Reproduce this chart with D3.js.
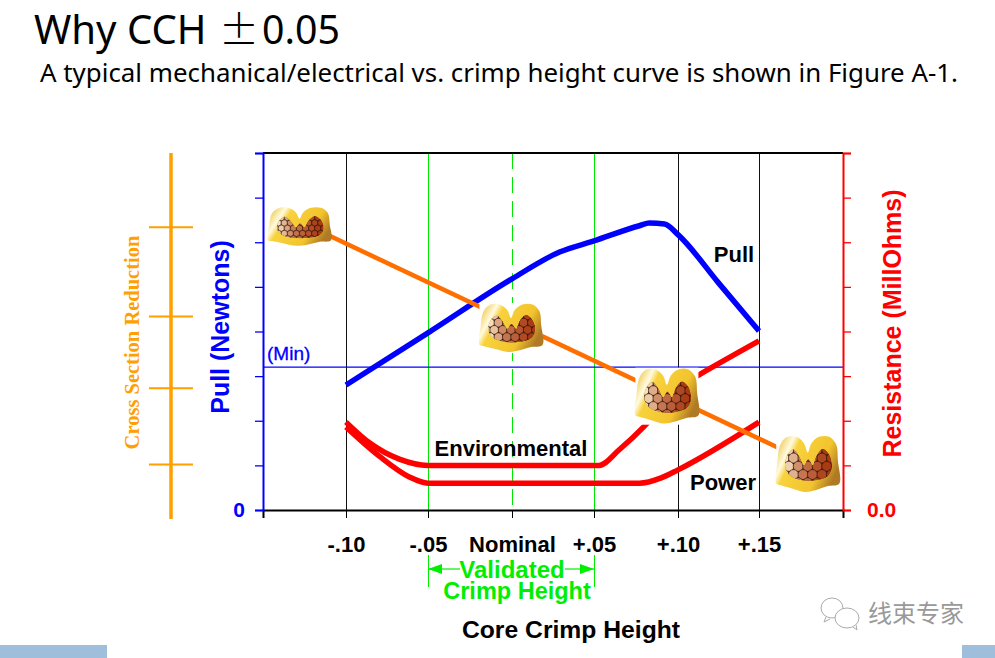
<!DOCTYPE html>
<html lang="en">
<head>
    <meta charset="UTF-8">
    <title>Why CCH</title>
    <style>
        html, body { margin: 0; padding: 0; background: #fff; }
        svg { display: block; }
        text { font-family: "Liberation Sans", Arial, sans-serif; font-weight: bold; }
        .slide-text { font-family: "Noto Sans", sans-serif; font-weight: normal; fill: #000; }
    </style>
</head>
<body>
    <div id="chart"></div>
    <script src="https://cdn.jsdelivr.net/npm/d3@7"></script>
    <script>

        // x is offset from nominal crimp height, y is in axis divisions
        var crimpTicks = [-0.15, -0.10, -0.05, 0, 0.05, 0.10, 0.15, 0.20];
        var crimpLabels = ["", "-.10", "-.05", "Nominal", "+.05", "+.10", "+.15", ""];
        var yTicks = [0, 1, 2, 3, 4, 5, 6, 7, 8];

        var pullX = [-0.10, -0.05, 0, 0.029, 0.05, 0.077, 0.083, 0.092, 0.10, 0.125, 0.15];
        var pullY = [2.80, 3.97, 5.18, 5.78, 6.03, 6.37, 6.43, 6.41, 6.17, 5.09, 4.01];

        var envX = [-0.10, -0.0855, -0.0675, -0.05, 0.053, 0.065, 0.08, 0.10, 0.113, 0.15];
        var envY = [1.97, 1.50, 1.14, 1.00, 1.00, 1.35, 1.88, 2.75, 3.03, 3.79];

        var powerX = [-0.10, -0.0795, -0.0614, -0.05, 0.077, 0.09, 0.10, 0.15];
        var powerY = [1.86, 1.20, 0.74, 0.60, 0.60, 0.72, 0.90, 1.97];

        var crossX = [-0.129, 0.178];
        var crossY = [6.48, 1.10];
        var crossTicks = [6.35, 4.35, 2.74, 1.03];

        var sampleX = [-0.128, -0.0006, 0.0934, 0.179];
        var sampleY = [6.35, 4.08, 2.55, 1.03];
        var minPull = 3.2;

        var width = 995,
            height = 658;

        // the drawn gridlines are not quite evenly spaced
        var x = d3.scaleLinear().domain(crimpTicks).range([263, 346, 428, 512, 594, 678, 759, 843]);
        var y = d3.scaleLinear().domain([0, 8]).range([510, 153]);

        var svg = d3.select("#chart").append("svg")
            .attr("width", width)
            .attr("height", height);

        var defs = svg.append("defs");
        var gold = defs.append("linearGradient").attr("id", "gold")
            .attr("x1", 0).attr("y1", 0.1).attr("x2", 1).attr("y2", 0.5);
        gold.append("stop").attr("offset", 0).attr("stop-color", "#ecbc2c");
        gold.append("stop").attr("offset", 0.22).attr("stop-color", "#fffbe0");
        gold.append("stop").attr("offset", 0.32).attr("stop-color", "#f8d23c");
        gold.append("stop").attr("offset", 0.75).attr("stop-color", "#f2c42e");
        gold.append("stop").attr("offset", 1).attr("stop-color", "#b07a24");

        // slide furniture
        svg.append("rect").attr("x", 0).attr("y", 645).attr("width", 107).attr("height", 13).attr("fill", "#9fbedb");
        svg.append("rect").attr("x", 962).attr("y", 645).attr("width", 33).attr("height", 13).attr("fill", "#9fbedb");

        var title = svg.append("text").attr("class", "slide-text")
            .attr("y", 44)
            .style("font-size", "40px");
        title.append("tspan").attr("x", 34).attr("textLength", 183).attr("lengthAdjust", "spacingAndGlyphs").text("Why CCH ");
        title.append("tspan").attr("x", 219)
            .style("font-family", '"Noto Sans CJK SC"')
            .style("font-weight", "200")
            .text("±");
        title.append("tspan").attr("x", 262).attr("textLength", 78).attr("lengthAdjust", "spacingAndGlyphs").text("0.05");

        svg.append("text").attr("class", "slide-text")
            .attr("x", 40).attr("y", 82)
            .style("font-size", "25px")
            .attr("textLength", 918)
            .attr("lengthAdjust", "spacingAndGlyphs")
            .text("A typical mechanical/electrical vs. crimp height curve is shown in Figure A-1.");

        // watermark
        var mark = svg.append("g").attr("fill", "#fff").attr("stroke", "#aaa").attr("stroke-width", 1);
        mark.append("ellipse").attr("cx", 832).attr("cy", 608).attr("rx", 11).attr("ry", 10);
        mark.append("path").attr("d", "M826 617l-2 5 6-3");
        mark.append("ellipse").attr("cx", 847).attr("cy", 618).attr("rx", 12).attr("ry", 10);
        mark.append("path").attr("d", "M853 627l4 3-1-5");
        svg.append("text")
            .attr("x", 868).attr("y", 622)
            .style("font-family", '"Noto Sans CJK SC"')
            .style("font-weight", "normal")
            .style("font-size", "24px")
            .attr("fill", "#999")
            .text("线束专家");

        // grid verticals
        var grid = svg.append("g").attr("shape-rendering", "crispEdges");
        var blackLines = [-0.10, 0.10, 0.15];
        var greenLines = [-0.05, 0.05];
        grid.selectAll(".black").data(blackLines).enter().append("line")
            .attr("class", "black")
            .attr("x1", d => x(d)).attr("x2", d => x(d))
            .attr("y1", y(8)).attr("y2", y(0))
            .attr("stroke", "#111").attr("stroke-width", 1);
        grid.selectAll(".green").data(greenLines).enter().append("line")
            .attr("class", "green")
            .attr("x1", d => x(d)).attr("x2", d => x(d))
            .attr("y1", y(8)).attr("y2", y(0))
            .attr("stroke", "#00e800").attr("stroke-width", 1);
        grid.append("line")
            .attr("x1", x(0)).attr("x2", x(0))
            .attr("y1", y(8)).attr("y2", y(0))
            .attr("stroke", "#00e800").attr("stroke-width", 1)
            .attr("stroke-dasharray", "16 8");

        // min pull line
        svg.append("line")
            .attr("x1", x(-0.15)).attr("x2", x(0.20))
            .attr("y1", y(minPull)).attr("y2", y(minPull))
            .attr("stroke", "#0000ff").attr("stroke-width", 1.3);
        svg.append("text")
            .attr("x", 267).attr("y", 360)
            .attr("fill", "#0000ff")
            .style("font-weight", "normal")
            .style("font-size", "19px")
            .attr("stroke", "#0000ff")
            .attr("stroke-width", 0.3)
            .text("(Min)");

        // top edge
        svg.append("line")
            .attr("x1", x(-0.15)).attr("x2", x(0.20))
            .attr("y1", y(8)).attr("y2", y(8))
            .attr("stroke", "#000").attr("stroke-width", 2);

        // axes
        var bottomAxis = d3.axisBottom(x)
            .tickValues(crimpTicks)
            .tickSize(8)
            .tickPadding(18)
            .tickFormat(function(d, i) { return crimpLabels[i]; });
        var gBottom = svg.append("g").attr("transform", "translate(0," + y(0) + ")").call(bottomAxis);
        gBottom.select(".domain").attr("stroke", "#000").attr("stroke-width", 2);
        gBottom.selectAll("line").attr("stroke", "#000");
        gBottom.selectAll("text").attr("fill", "#000")
            .style("font-size", "22px")
            .style("font-weight", "bold")
            .style("font-family", '"Liberation Sans"');

        var leftAxis = d3.axisLeft(y)
            .tickValues(yTicks)
            .tickSize(8)
            .tickPadding(10)
            .tickFormat(d => d === 0 ? "0" : "");
        var gLeft = svg.append("g").attr("transform", "translate(" + x(-0.15) + ",0)").call(leftAxis);
        gLeft.selectAll(".domain, line").attr("stroke", "#0000ff").attr("stroke-width", 2);
        gLeft.selectAll("line").attr("stroke-width", 1.3);
        gLeft.selectAll("text").attr("fill", "#0000ff")
            .style("font-size", "21px")
            .style("font-weight", "bold")
            .style("font-family", '"Liberation Sans"');

        var rightAxis = d3.axisRight(y)
            .tickValues(yTicks)
            .tickSize(8)
            .tickPadding(16)
            .tickFormat(d => d === 0 ? "0.0" : "");
        var gRight = svg.append("g").attr("transform", "translate(" + x(0.20) + ",0)").call(rightAxis);
        gRight.selectAll(".domain, line").attr("stroke", "#ff0000").attr("stroke-width", 2);
        gRight.selectAll("line").attr("stroke-width", 1.3);
        gRight.selectAll("text").attr("fill", "#ff0000")
            .style("font-size", "21px")
            .style("font-weight", "bold")
            .style("font-family", '"Liberation Sans"');

        // cross section axis
        var crossAxis = d3.axisLeft(y)
            .tickValues(crossTicks)
            .tickSize(44)
            .tickFormat("");
        var gCross = svg.append("g").attr("transform", "translate(193,0)").call(crossAxis);
        gCross.select(".domain").remove();
        gCross.selectAll("line").attr("stroke", "#ff9f00").attr("stroke-width", 2);
        svg.append("line")
            .attr("x1", 171).attr("x2", 171)
            .attr("y1", y(8)).attr("y2", y(-0.2))
            .attr("stroke", "#ff9f00").attr("stroke-width", 3.5);

        // curves
        var curve = d3.line()
            .x(d => x(d[0]))
            .y(d => y(d[1]))
            .curve(d3.curveMonotoneX);

        svg.append("path").datum(d3.zip(powerX, powerY))
            .attr("d", curve).attr("fill", "none")
            .attr("stroke", "#ff0000").attr("stroke-width", 5.5);
        svg.append("path").datum(d3.zip(envX, envY))
            .attr("d", curve).attr("fill", "none")
            .attr("stroke", "#ff0000").attr("stroke-width", 5.5);
        svg.append("path").datum(d3.zip(pullX, pullY))
            .attr("d", curve).attr("fill", "none")
            .attr("stroke", "#0000ff").attr("stroke-width", 5.5);
        svg.append("path").datum(d3.zip(crossX, crossY))
            .attr("d", curve).attr("fill", "none")
            .attr("stroke", "#ff6f00").attr("stroke-width", 4.5);

        // crimp cross section pictures, they get taller along the line
        var outline = [[2, 45], [6, 18], [16, 4], [32, 3], [44, 14], [50, 30], [56, 14], [68, 3], [84, 3], [95, 16],
            [98, 45], [100, 84], [82, 88], [62, 95], [45, 98], [25, 92], [6, 86], [0, 84]];
        var bundle = [[14, 54], [18, 34], [27, 25], [36, 36], [44, 52], [51, 42], [58, 52], [64, 36], [74, 24], [84, 34],
            [88, 55], [82, 70], [62, 78], [42, 78], [22, 70]];
        var sampleW = 63;
        var sampleH = [40, 50, 57, 58];
        var cellR = [3.2, 4.4, 4.8, 5];
        var shape = d3.line().curve(d3.curveCatmullRomClosed);

        sampleX.forEach(function(v, i) {
            var h = sampleH[i],
                sx = d3.scaleLinear().domain([0, 100]).range([-sampleW / 2, sampleW / 2]),
                sy = d3.scaleLinear().domain([0, 100]).range([-h / 2, h / 2]);
            var scaled = pts => shape(pts.map(p => [sx(p[0]), sy(p[1])]));

            var g = svg.append("g")
                .attr("transform", "translate(" + x(v) + "," + y(sampleY[i]) + ")");
            g.append("rect")
                .attr("x", -sampleW / 2).attr("y", -h / 2)
                .attr("width", sampleW).attr("height", h)
                .attr("fill", "#fff");
            g.append("path").attr("d", scaled(outline)).attr("fill", "url(#gold)");

            defs.append("clipPath").attr("id", "bundle" + i)
                .append("path").attr("d", scaled(bundle));
            var cells = g.append("g").attr("clip-path", "url(#bundle" + i + ")");
            cells.append("path").attr("d", scaled(bundle)).attr("fill", "#4a1c08");

            var r = cellR[i],
                tone = d3.scaleLinear().domain([-sampleW * 0.34, -sampleW * 0.1, sampleW * 0.3]).range([0, 0.62, 1]),
                color = d3.interpolateRgb("#f8e2c0", "#a83a14");
            d3.range(-6, 7).forEach(function(row) {
                d3.range(-8, 9).forEach(function(col) {
                    var cx = (col + (row % 2 ? 0.5 : 0)) * r * 1.9,
                        cy = row * r * 1.65 + h * 0.04;
                    cells.append("circle")
                        .attr("cx", cx).attr("cy", cy).attr("r", r)
                        .attr("fill", color(Math.max(0, Math.min(1, tone(cx)))))
                        .attr("stroke", "#2a1408").attr("stroke-width", 0.6);
                });
            });
        });

        // series names
        var labels = [
            ["Pull", 734, 262],
            ["Environmental", 511, 456],
            ["Power", 723, 490]
        ];
        svg.selectAll(".series-name").data(labels).enter().append("text")
            .attr("class", "series-name")
            .attr("x", d => d[1]).attr("y", d => d[2])
            .attr("text-anchor", "middle")
            .attr("fill", "#000")
            .style("font-size", "22px")
            .text(d => d[0]);

        // axis titles
        svg.append("text")
            .attr("transform", "translate(139,342.5) rotate(-90)")
            .attr("text-anchor", "middle")
            .attr("fill", "#ff9f00")
            .style("font-family", '"Liberation Serif"')
            .style("font-size", "20.5px")
            .text("Cross Section Reduction");
        svg.append("text")
            .attr("transform", "translate(229,327) rotate(-90)")
            .attr("text-anchor", "middle")
            .attr("fill", "#0000ff")
            .style("font-size", "25px")
            .text("Pull (Newtons)");
        svg.append("text")
            .attr("transform", "translate(901,323.5) rotate(-90)")
            .attr("text-anchor", "middle")
            .attr("fill", "#ff0000")
            .style("font-size", "25px")
            .text("Resistance (MillOhms)");
        svg.append("text")
            .attr("x", 571).attr("y", 638)
            .attr("text-anchor", "middle")
            .attr("fill", "#000")
            .style("font-size", "24.7px")
            .text("Core Crimp Height");

        // validated range bracket
        var bracketGreen = "#00ee00";
        var bracket = svg.append("g");
        greenLines.forEach(function(d) {
            bracket.append("line")
                .attr("shape-rendering", "crispEdges")
                .attr("x1", x(d)).attr("x2", x(d))
                .attr("y1", 555).attr("y2", 587)
                .attr("stroke", bracketGreen).attr("stroke-width", 1);
        });
        bracket.append("line").attr("x1", x(-0.05)).attr("x2", 460).attr("y1", 569).attr("y2", 569)
            .attr("stroke", bracketGreen).attr("stroke-width", 1.2);
        bracket.append("line").attr("x1", 565).attr("x2", x(0.05)).attr("y1", 569).attr("y2", 569)
            .attr("stroke", bracketGreen).attr("stroke-width", 1.2);
        var head = d3.path();
        head.moveTo(x(-0.05), 569); head.lineTo(x(-0.05) + 14, 564); head.lineTo(x(-0.05) + 14, 574); head.closePath();
        head.moveTo(x(0.05), 569); head.lineTo(x(0.05) - 14, 564); head.lineTo(x(0.05) - 14, 574); head.closePath();
        bracket.append("path").attr("d", head.toString()).attr("fill", bracketGreen);
        svg.append("text")
            .attr("x", 512).attr("y", 578)
            .attr("text-anchor", "middle")
            .attr("fill", bracketGreen)
            .style("font-size", "24px")
            .text("Validated");
        svg.append("text")
            .attr("x", 517).attr("y", 599)
            .attr("text-anchor", "middle")
            .attr("fill", bracketGreen)
            .style("font-size", "23.5px")
            .text("Crimp Height");
    </script>
</body>
</html>
